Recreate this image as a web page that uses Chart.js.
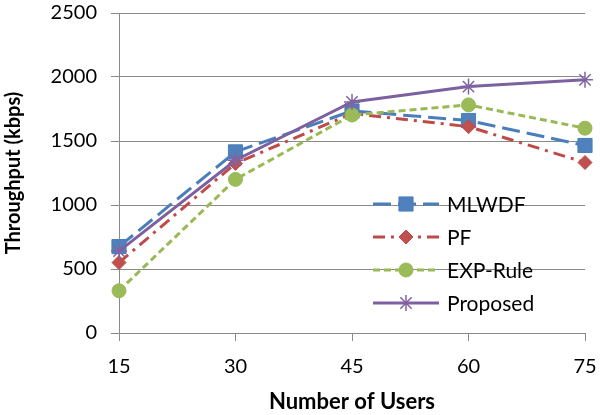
<!DOCTYPE html>
<html>
<head>
<meta charset="utf-8">
<script src="https://cdn.jsdelivr.net/npm/chart.js@4.4.1/dist/chart.umd.min.js"></script>
<style>
html,body{margin:0;padding:0;background:#fff}
</style>
</head>
<body>
<canvas id="myChart" width="600" height="415"></canvas>
<script>
var users=['15','30','45','60','75']
var mlwdf=[675,1415,1735,1660,1465]
var pf=[550,1325,1715,1612,1332]
var expRule=[330,1200,1703,1782,1600]
var proposed=[640,1350,1805,1925,1978]
var seriesNames=['MLWDF','PF','EXP-Rule','Proposed']

var fontFam="Lato, 'Open Sans', sans-serif"
var gridCol='#8a8a8a'

// legend sits inside the plot, like the excel one
var insideLegend={
    id:'insideLegend',
    afterDraw:function(chart){
        var ctx=chart.ctx
        var area=chart.chartArea
        var x0=area.left+254, x1=x0+66
        var y=area.top+191
        chart.data.datasets.forEach(function(ds,i){
            var yy=y+i*33
            ctx.save()
            ctx.strokeStyle=ds.borderColor
            ctx.lineWidth=ds.borderWidth
            ctx.setLineDash(ds.borderDash||[])
            ctx.beginPath()
            ctx.moveTo(x0,yy)
            ctx.lineTo(x1,yy)
            ctx.stroke()
            ctx.setLineDash([])
            ctx.fillStyle=ds.pointBackgroundColor
            ctx.strokeStyle=ds.pointBorderColor
            ctx.lineWidth=ds.pointBorderWidth
            Chart.helpers.drawPoint(ctx,{pointStyle:ds.pointStyle,radius:ds.pointRadius,rotation:0,borderWidth:ds.pointBorderWidth},(x0+x1)/2,yy)
            ctx.fillStyle='#000'
            ctx.font='21px '+fontFam
            ctx.textBaseline='middle'
            ctx.fillText(ds.label,x1+8,yy+1)
            ctx.restore()
        })
    }
}

chart=new Chart('myChart',{
    type:'line',
    data:{
        labels:users,
        datasets:[{
            label:seriesNames[0],
            data:mlwdf,
            borderColor:'#4a7ebb',
            borderWidth:3,
            borderDash:[18,7],
            pointStyle:'rect',
            pointRadius:10,
            pointBackgroundColor:'#4f81bd',
            pointBorderColor:'#4a7ebb',
            pointBorderWidth:1,
            order:4
        },{
            label:seriesNames[1],
            data:pf,
            borderColor:'#be4b48',
            borderWidth:3,
            borderDash:[12,6,3,6],
            pointStyle:'rectRot',
            pointRadius:7,
            pointBackgroundColor:'#c0504d',
            pointBorderColor:'#be4b48',
            pointBorderWidth:1,
            order:3
        },{
            label:seriesNames[2],
            data:expRule,
            borderColor:'#98b954',
            borderWidth:3,
            borderDash:[7,4],
            pointStyle:'circle',
            pointRadius:7,
            pointBackgroundColor:'#9bbb59',
            pointBorderColor:'#98b954',
            pointBorderWidth:1,
            order:2
        },{
            label:seriesNames[3],
            data:proposed,
            borderColor:'#7d60a0',
            borderWidth:3,
            pointStyle:'star',
            pointRadius:8,
            pointBackgroundColor:'#8064a2',
            pointBorderColor:'#8064a2',
            pointBorderWidth:1.5,
            order:1
        }]
    },
    options:{
        responsive:false,
        animation:false,
        events:[],
        layout:{padding:{top:13,right:15,left:0,bottom:0}},
        plugins:{legend:{display:false},tooltip:{enabled:false}},
        scales:{
            x:{
                offset:false,
                afterFit:function(s){s.height=82;s.paddingLeft=0;s.paddingRight=0},
                grid:{drawOnChartArea:false,color:gridCol,tickLength:8},
                border:{color:gridCol,width:1},
                ticks:{color:'#000',padding:14,font:{family:fontFam,size:20}},
                title:{display:true,text:'Number of Users',color:'#000',padding:{top:0,bottom:0},font:{family:fontFam,size:22,weight:'bold'}}
            },
            y:{
                min:0,max:2500,
                afterFit:function(s){s.width=119;s.paddingTop=0;s.paddingBottom=0},
                grid:{color:gridCol,tickLength:8},
                border:{color:gridCol,width:1},
                ticks:{stepSize:500,color:'#000',padding:14,font:{family:fontFam,size:20},
                    callback:function(v){return String(v)}},
                title:{display:true,text:'Throughput (kbps)',color:'#000',padding:{top:2,bottom:0},font:{family:fontFam,size:20,weight:'bold'}}
            }
        }
    },
    plugins:[insideLegend]
})
</script>
</body>
</html>
